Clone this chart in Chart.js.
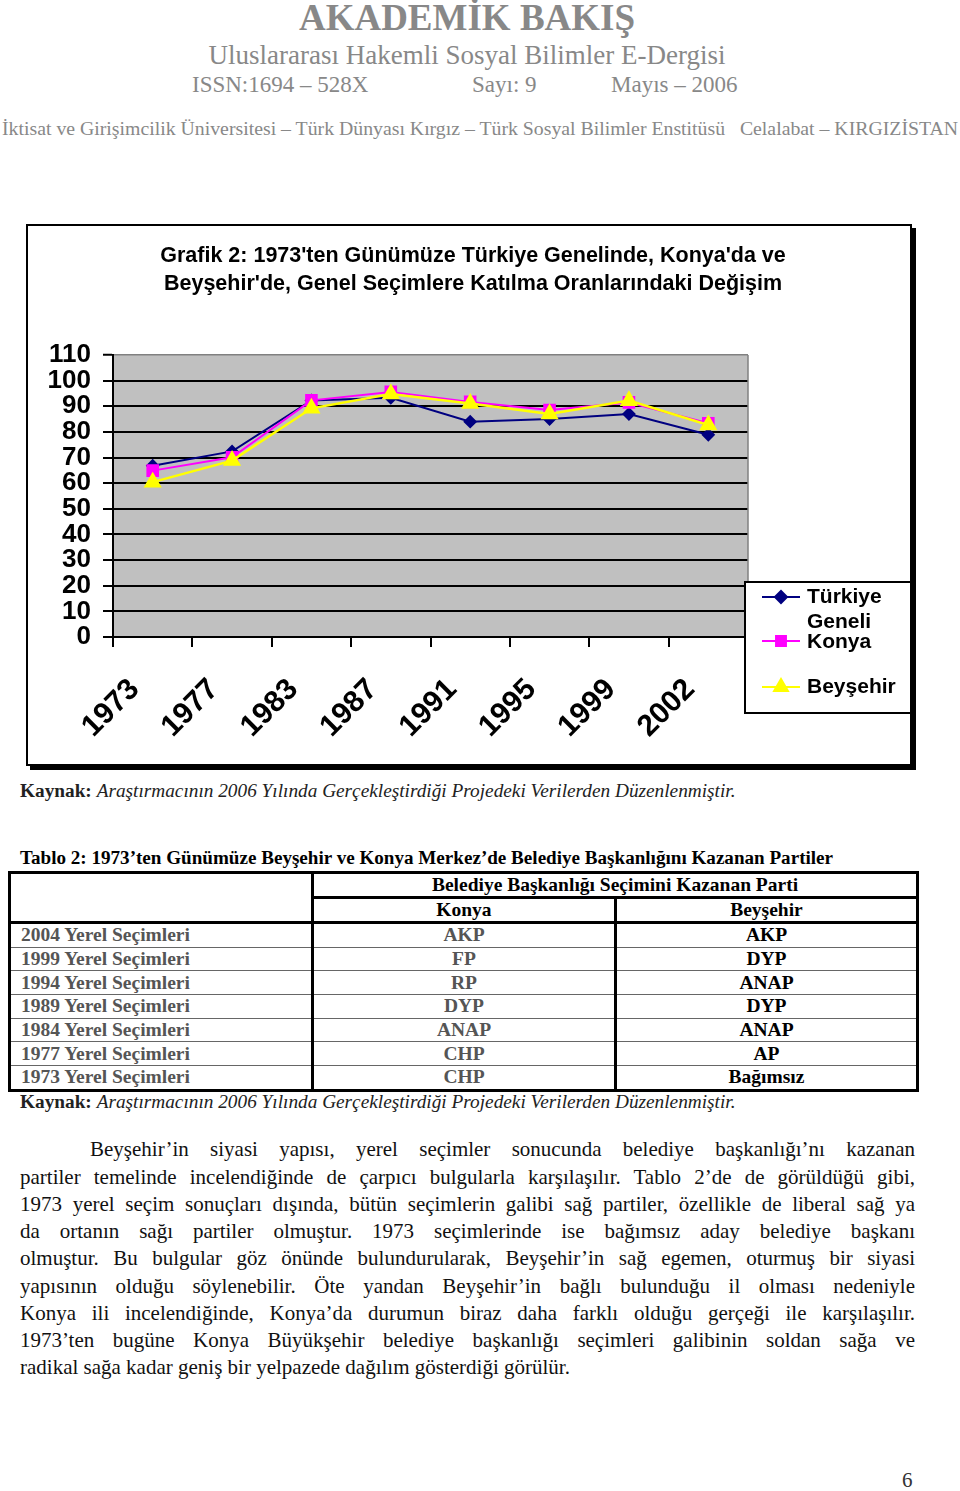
<!DOCTYPE html>
<html>
<head>
<meta charset="utf-8">
<script src="https://cdn.jsdelivr.net/npm/chart.js@4.4.1/dist/chart.umd.min.js"></script>
<style>
  body { margin: 0; width: 960px; height: 1491px; background: #fff; position: relative; overflow: hidden;
         font-family: "Liberation Serif", "Times New Roman", serif; }
  .t { position: absolute; white-space: nowrap; }
  .hdr { color: #888; }
  #frame { position: absolute; left: 26px; top: 224px; width: 886px; height: 542px; box-sizing: border-box;
           border: 2px solid #000; box-shadow: 4px 4px 0 #000; background: #fff; }
  #frame canvas { position: absolute; left: 0; top: 0; }
  table { position: absolute; left: 8px; top: 871px; width: 911px; border-collapse: collapse;
          font-weight: bold; font-size: 19.5px; }
  td { height: 22.7px; padding: 0; line-height: 22px; }
  tr.h td { height: 21.2px; }
  .para { position: absolute; left: 20px; width: 895px; font-size: 21px; line-height: 27px;
          text-align: justify; text-align-last: justify; color: #111; }
</style>
</head>
<body>
<div class="t hdr" style="left:0;width:934px;text-align:center;top:-2px;font-size:37px;font-weight:bold;line-height:40px;">AKADEMİK BAKIŞ</div>
<div class="t hdr" style="left:0;width:934px;text-align:center;top:40px;font-size:27px;line-height:30px;">Uluslararası Hakemli Sosyal Bilimler E-Dergisi</div>
<div class="t hdr" style="left:192px;top:71px;font-size:23px;line-height:28px;">ISSN:1694 – 528X</div>
<div class="t hdr" style="left:472px;top:71px;font-size:23px;line-height:28px;">Sayı: 9</div>
<div class="t hdr" style="left:611px;top:71px;font-size:23px;line-height:28px;">Mayıs – 2006</div>
<div class="t hdr" style="left:2px;top:116px;font-size:19.8px;line-height:24px;">İktisat ve Girişimcilik Üniversitesi – Türk Dünyası Kırgız – Türk Sosyal Bilimler Enstitüsü&nbsp;&nbsp; Celalabat – KIRGIZİSTAN</div>

<div id="frame"><canvas id="chart" width="882" height="538"></canvas></div>

<div class="t" style="left:20px;top:779px;font-size:19.3px;line-height:24px;color:#222;"><b>Kaynak:</b> <i>Araştırmacının 2006 Yılında Gerçekleştirdiği Projedeki Verilerden Düzenlenmiştir.</i></div>

<div class="t" style="left:20px;top:846px;font-size:19.1px;line-height:24px;font-weight:bold;">Tablo 2: 1973’ten Günümüze Beyşehir ve Konya Merkez’de Belediye Başkanlığını Kazanan Partiler</div>
<table id="tbl"></table>
<div class="t" style="left:20px;top:1090px;font-size:19.3px;line-height:24px;color:#222;"><b>Kaynak:</b> <i>Araştırmacının 2006 Yılında Gerçekleştirdiği Projedeki Verilerden Düzenlenmiştir.</i></div>

<div id="text"></div>

<div class="t" style="left:902px;top:1468px;font-size:21px;line-height:24px;color:#333;">6</div>

<script>
// grafik verileri (katılım oranı, %)
const years = ['1973', '1977', '1983', '1987', '1991', '1995', '1999', '2002'];
const turkiye = [66.8, 72.4, 92.3, 93.3, 84.0, 85.0, 87.0, 78.9];
const konya = [64.9, 70.1, 92.3, 95.6, 91.7, 88.5, 91.5, 83.4];
const beysehir = [60.4, 68.8, 89.2, 94.8, 91.1, 87.0, 92.2, 82.7];
const seriesNames = ['Türkiye Geneli', 'Konya', 'Beyşehir'];
const chartTitle = ['Grafik 2: 1973\'ten Günümüze Türkiye Genelinde, Konya\'da ve',
                    'Beyşehir\'de, Genel Seçimlere Katılma Oranlarındaki Değişim'];

// tablo verileri
const elections = ['2004 Yerel Seçimleri', '1999 Yerel Seçimleri', '1994 Yerel Seçimleri', '1989 Yerel Seçimleri',
  '1984 Yerel Seçimleri', '1977 Yerel Seçimleri', '1973 Yerel Seçimleri'];
const konyaParty = ['AKP', 'FP', 'RP', 'DYP', 'ANAP', 'CHP', 'CHP'];
const beysehirParty = ['AKP', 'DYP', 'ANAP', 'DYP', 'ANAP', 'AP', 'Bağımsız'];

const paraLines = [
  'Beyşehir’in siyasi yapısı, yerel seçimler sonucunda belediye başkanlığı’nı kazanan',
  'partiler temelinde incelendiğinde de çarpıcı bulgularla karşılaşılır. Tablo 2’de de görüldüğü gibi,',
  '1973 yerel seçim sonuçları dışında, bütün seçimlerin galibi sağ partiler, özellikle de liberal sağ ya',
  'da ortanın sağı partiler olmuştur. 1973 seçimlerinde ise bağımsız aday belediye başkanı',
  'olmuştur. Bu bulgular göz önünde bulundurularak, Beyşehir’in sağ egemen, oturmuş bir siyasi',
  'yapısının olduğu söylenebilir. Öte yandan Beyşehir’in bağlı bulunduğu il olması nedeniyle',
  'Konya ili incelendiğinde, Konya’da durumun biraz daha farklı olduğu gerçeği ile karşılaşılır.',
  '1973’ten bugüne Konya Büyükşehir belediye başkanlığı seçimleri galibinin soldan sağa ve',
  'radikal sağa kadar geniş bir yelpazede dağılım gösterdiği görülür.'
];

// tablo
const thick = '3px solid #000', thin = '1px solid #666';
let html = '<tr class="h"><td rowspan="2" style="width:300px;border:' + thick + ';border-bottom:' + thick + '"></td>' +
  '<td colspan="2" style="text-align:center;border:' + thick + ';border-bottom:' + thick + '">Belediye Başkanlığı Seçimini Kazanan Parti</td></tr>' +
  '<tr class="h"><td style="text-align:center;width:300px;border-right:' + thick + ';border-bottom:' + thick + '">Konya</td>' +
  '<td style="text-align:center;border-right:' + thick + ';border-bottom:' + thick + '">Beyşehir</td></tr>';
elections.forEach((e, i) => {
  const last = i === elections.length - 1;
  const bb = last ? thick : thin;
  html += '<tr><td style="padding-left:10px;color:#555;border-left:' + thick + ';border-right:' + thick + ';border-bottom:' + bb + '">' + e + '</td>' +
    '<td style="text-align:center;color:#555;border-right:' + thick + ';border-bottom:' + bb + '">' + konyaParty[i] + '</td>' +
    '<td style="text-align:center;border-right:' + thick + ';border-bottom:' + bb + '">' + beysehirParty[i] + '</td></tr>';
});
document.getElementById('tbl').innerHTML = html;

// paragraf
const lineTops = [1136, 1164, 1191, 1218, 1245, 1273, 1300, 1327, 1354];
let ph = '';
paraLines.forEach((l, i) => {
  const left = i === 0 ? 90 : 20;
  const w = i === 0 ? 825 : 895;
  const last = i === paraLines.length - 1 ? 'text-align-last:left;' : '';
  ph += '<div class="para" style="top:' + lineTops[i] + 'px;left:' + left + 'px;width:' + w + 'px;' + last + '">' + l + '</div>';
});
document.getElementById('text').innerHTML = ph;

const sans = '"Liberation Sans", Arial, sans-serif';
const colors = ['#000080', '#ff00ff', '#ffff00'];
const styles = ['rectRot', 'rect', 'triangle'];

const plotBg = {
  id: 'plotBg',
  beforeDraw(chart) {
    const { ctx, chartArea: a } = chart;
    ctx.save();
    ctx.fillStyle = '#c0c0c0';
    ctx.fillRect(a.left, a.top, a.right - a.left, a.bottom - a.top);
    // başlık, çerçevenin ortasına göre
    ctx.fillStyle = '#000';
    ctx.font = 'bold 21.5px ' + sans;
    ctx.textAlign = 'center';
    ctx.textBaseline = 'middle';
    ctx.fillText(chartTitle[0], 445, 30);
    ctx.fillText(chartTitle[1], 445, 58);
    ctx.restore();
  },
  afterDatasetsDraw(chart) {
    const { ctx, chartArea: a } = chart;
    ctx.save();
    ctx.strokeStyle = '#808080';
    ctx.lineWidth = 1.5;
    ctx.beginPath();
    ctx.moveTo(a.right, a.top);
    ctx.lineTo(a.right, a.bottom);
    ctx.stroke();
    ctx.restore();
  }
};

// Excel tarzı lejant
const boxLegend = {
  id: 'boxLegend',
  afterDraw(chart) {
    const ctx = chart.ctx;
    ctx.save();
    ctx.fillStyle = '#fff';
    ctx.fillRect(716, 355, 168, 133);
    ctx.strokeStyle = '#000';
    ctx.lineWidth = 2;
    ctx.strokeRect(717, 356, 166, 131);
    const rows = [371, 415, 461];
    const radii = [6, 7, 8];
    chart.data.datasets.forEach((ds, i) => {
      const y = rows[i];
      ctx.strokeStyle = colors[i];
      ctx.lineWidth = 2;
      ctx.beginPath();
      ctx.moveTo(734, y);
      ctx.lineTo(772, y);
      ctx.stroke();
      ctx.fillStyle = colors[i];
      Chart.helpers.drawPoint(ctx, { pointStyle: styles[i], radius: radii[i], rotation: 0, borderWidth: 1 }, 753, y);
    });
    ctx.fillStyle = '#000';
    ctx.font = 'bold 21px ' + sans;
    ctx.textBaseline = 'middle';
    ctx.textAlign = 'left';
    ctx.fillText('Türkiye', 779, 371);
    ctx.fillText('Geneli', 779, 396);
    ctx.fillText('Konya', 779, 416);
    ctx.fillText('Beyşehir', 779, 461);
    ctx.restore();
  }
};

const data = {
  labels: years,
  datasets: [
    { label: seriesNames[0], data: turkiye, order: 3, borderColor: colors[0], backgroundColor: colors[0],
      pointStyle: 'rectRot', pointRadius: 5.5, borderWidth: 2 },
    { label: seriesNames[1], data: konya, order: 2, borderColor: colors[1], backgroundColor: colors[1],
      pointStyle: 'rect', pointRadius: 7.5, borderWidth: 2 },
    { label: seriesNames[2], data: beysehir, order: 1, borderColor: colors[2], backgroundColor: colors[2],
      pointStyle: 'triangle', pointRadius: 8, borderWidth: 2.5 }
  ]
};

const options = {
  responsive: false,
  animation: false,
  layout: { padding: { left: 0, right: 162, top: 129, bottom: 0 } },
  plugins: {
    legend: { display: false },
    tooltip: { enabled: false },
    title: { display: false }
  },
  scales: {
    x: {
      offset: true,
      grid: { drawOnChartArea: false, drawTicks: true, tickLength: 10, color: '#000', lineWidth: 2, offset: true },
      border: { color: '#000', width: 2 },
      ticks: {
        autoSkip: false, minRotation: 45, maxRotation: 45, labelOffset: -18, padding: 25,
        color: '#000', font: { family: sans, size: 30, weight: 'bold' }
      },
      afterFit: s => { s.height = 127; }
    },
    y: {
      min: 0,
      max: 110,
      grid: {
        color: c => c.tick && c.tick.value === 110 ? '#808080' : '#000',
        lineWidth: c => c.tick && c.tick.value === 110 ? 1.5 : 2,
        tickColor: '#000', tickWidth: 2, tickLength: 10
      },
      border: { color: '#000', width: 2 },
      ticks: {
        stepSize: 10, autoSkip: false, padding: 12, color: '#000',
        font: { family: sans, size: 26, weight: 'bold', lineHeight: 1 }
      },
      afterFit: s => { s.width = 85; }
    }
  }
};

new Chart(document.getElementById('chart'), {
  type: 'line',
  data: data,
  options: options,
  plugins: [plotBg, boxLegend]
});
</script>
</body>
</html>
